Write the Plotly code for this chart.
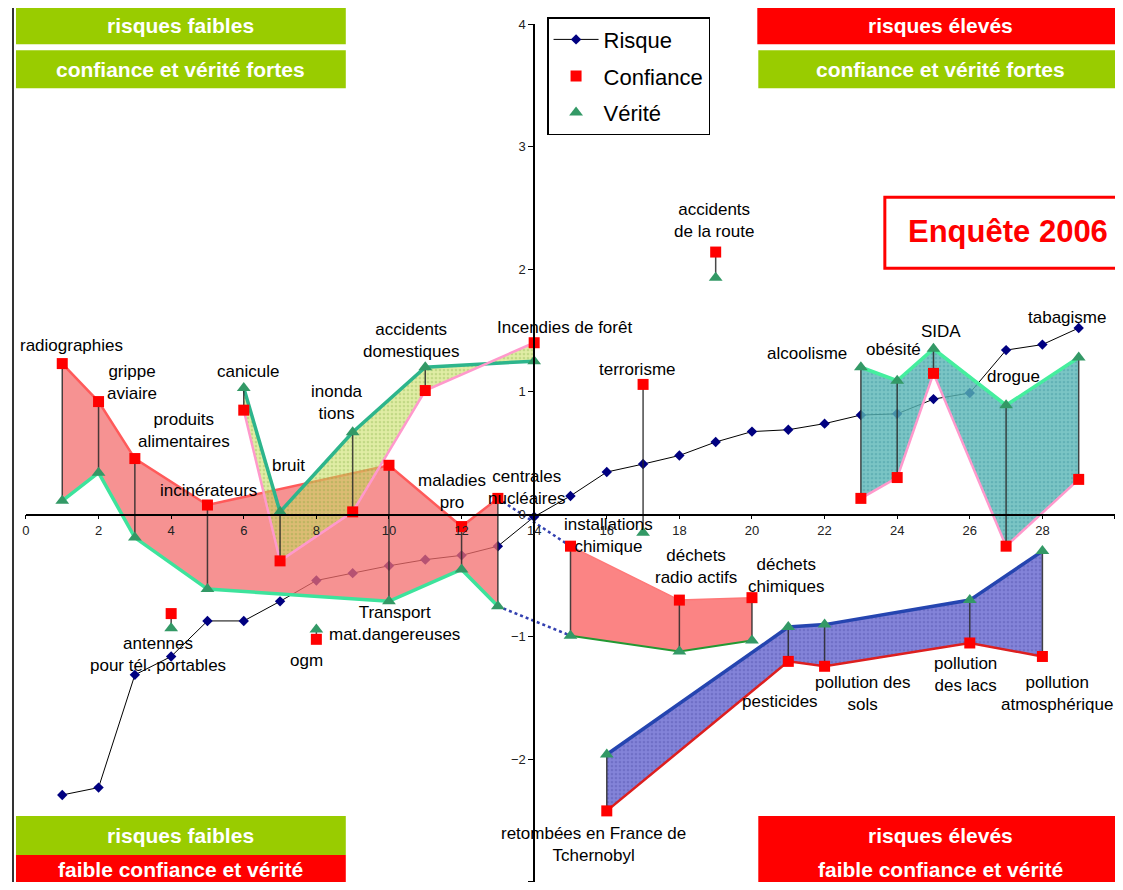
import plotly.graph_objects as go

# the page adds a body margin: draw at 1107x874 so the page is about 1123x890
W, H = 1107, 874
MX = 8            # horizontal offset of the figure in the page
OY, SY = 15.9, 0.991   # vertical offset / scale measured on the photographed page
FONT = "Liberation Sans, Arial, sans-serif"

# --- données ---
rang = [1, 2, 3, 4, 5, 6, 7, 8, 9, 10, 11, 12, 13, 14, 15,
        16, 17, 18, 19, 20, 21, 22, 23, 24, 25, 26, 27, 28, 29]
libelles = ["radiographies", "grippe<br>aviaire", "produits<br>alimentaires",
            "antennes<br>pour tél. portables", "incinérateurs", "canicule", "bruit",
            "ogm", "inonda<br>tions", "Transport<br>mat.dangereuses",
            "accidents<br>domestiques", "maladies<br>pro", "centrales<br>nucléaires",
            "Incendies de forêt", "installations<br>chimique",
            "retombées en France de<br>Tchernobyl", "terrorisme",
            "déchets<br>radio actifs", "accidents<br>de la route",
            "déchets<br>chimiques", "pesticides", "pollution des<br>sols",
            "alcoolisme", "obésité", "SIDA", "pollution<br>des lacs", "drogue",
            "pollution<br>atmosphérique", "tabagisme"]
risque = [-2.29, -2.23, -1.31, -1.16, -0.87, -0.87, -0.71, -0.54, -0.48, -0.42,
          -0.37, -0.335, -0.26, -0.02, 0.15, 0.345, 0.41, 0.48, 0.59, 0.675,
          0.69, 0.74, 0.81, 0.82, 0.94, 0.99, 1.34, 1.385, 1.52]
confiance = [1.23, 0.92, 0.455, -0.81, 0.076, 0.85, -0.38, -1.02, 0.02, 0.40,
             1.01, -0.10, 0.13, 1.40, -0.26, -2.42, 1.06, -0.70, 2.14, -0.68,
             -1.20, -1.24, 0.13, 0.30, 1.15, -1.05, -0.26, -1.16, 0.285]
verite = [0.11, 0.34, -0.19, -0.93, -0.61, 1.03, 0.02, -0.94, 0.67, -0.71,
          1.20, -0.45, -0.75, 1.25, -0.99, -1.96, -0.15, -1.12, 1.93, -1.03,
          -0.92, -0.90, 1.20, 1.09, 1.35, -0.70, 0.89, -0.30, 1.28]

# groupes de risques reliés par une zone colorée (rangs)
zone_rouge = [1, 2, 3, 5, 10, 12, 13]
zone_olive = [6, 7, 9, 11, 14]
zone_rouge2 = [15, 18, 20]
zone_bleue = [16, 21, 22, 26, 28]
zone_turquoise = [23, 24, 25, 27, 29]
liaison = [13, 15]

# décalage des étiquettes (pixels) par rapport au point Confiance
decalages = [(9, 18), (33, 19), (49, 28), (-13, -41), (1, 14), (4, 39), (8, 95),
             (-10, -21), (-16, 109), (6, -158), (-14, 50), (-10, 35), (29, 11),
             (30, 15), (38, 11), (-13, -34), (-6, 15), (17, 34), (-2, 32),
             (35, 22), (-8, -40), (38, -27), (-54, 145), (-4, 128), (8, 42),
             (-4, -32), (7, 170), (15, -37), (-12, 162)]

quadrants = [
    ("risques faibles", "#99CC00", 12, 343, 8, 45),
    ("confiance et vérité fortes", "#99CC00", 12, 343, 51, 89),
    ("risques élevés", "#FF0000", 756, 1123, 8, 45),
    ("confiance et vérité fortes", "#99CC00", 757, 1123, 51, 89),
    ("risques faibles", "#99CC00", 12, 343, 816, 855),
    ("faible confiance et vérité", "#FF0000", 12, 343, 855, 884),
    ("risques élevés", "#FF0000", 757, 1123, 816, 855),
    ("faible confiance et vérité", "#FF0000", 757, 1123, 855, 884),
]


def px(x):
    return (x - MX) / W


def py(y):
    return 1 - (y - OY) / SY / H


def sel(vals, grp):
    return [vals[rang.index(r)] for r in grp]


fig = go.Figure()

# courbe du risque (sous les zones)
fig.add_trace(go.Scatter(x=rang, y=risque, mode="lines+markers", name="Risque",
                         line=dict(color="black", width=1),
                         marker=dict(symbol="diamond", size=8, color="#000080"),
                         legendgroup="r", legendrank=1))


def zone(grp, fill, haut, bas, w_haut=3, w_bas=2.5, points=None):
    xs = grp + grp[::-1]
    ys = sel(confiance, grp) + sel(verite, grp)[::-1]
    extra = {}
    if points:
        extra["fillpattern"] = dict(shape=".", bgcolor=fill, fgcolor=points,
                                    size=4, solidity=0.35)
    fig.add_trace(go.Scatter(x=xs, y=ys, fill="toself", fillcolor=fill, mode="none",
                             showlegend=False, hoverinfo="skip", **extra))
    fig.add_trace(go.Scatter(x=grp, y=sel(verite, grp), mode="lines", showlegend=False,
                             line=dict(color=haut, width=w_haut), hoverinfo="skip"))
    fig.add_trace(go.Scatter(x=grp, y=sel(confiance, grp), mode="lines", showlegend=False,
                             line=dict(color=bas, width=w_bas), hoverinfo="skip"))


zone(zone_rouge, "rgba(243,110,110,0.75)", "#3DE39C", "#FF5A5A", 3.5, 2.5)
zone(zone_olive, "rgba(200,222,90,0.55)", "#2DB58C", "#FF99CC", 3.5, 2.5,
     points="rgba(110,160,50,0.55)")
zone(zone_rouge2, "rgba(250,110,110,0.85)", "#229933", "#FF7777", 2, 1.5)
zone(zone_bleue, "rgba(125,125,215,0.95)", "#2545B0", "#DD1F1F", 3.5, 2.5,
     points="rgba(80,80,170,0.8)")
zone(zone_turquoise, "rgba(90,182,182,0.8)", "#45EE9E", "#FF99CC", 3.5, 2.5,
     points="rgba(50,140,150,0.7)")

# traits verticaux entre confiance et vérité
vx, vy = [], []
for r, c, v in zip(rang, confiance, verite):
    vx += [r, r, None]
    vy += [c, v, None]
fig.add_trace(go.Scatter(x=vx, y=vy, mode="lines", showlegend=False, hoverinfo="skip",
                         line=dict(color="rgba(40,40,40,0.85)", width=1.5)))

# liaisons en pointillés
for serie in (confiance, verite):
    fig.add_trace(go.Scatter(x=liaison, y=sel(serie, liaison), mode="lines",
                             showlegend=False, hoverinfo="skip",
                             line=dict(color="#3340B0", width=2.5, dash="dot")))

fig.add_trace(go.Scatter(x=rang, y=confiance, mode="markers", name="Confiance",
                         marker=dict(symbol="square", size=11, color="#FF0000"),
                         legendgroup="c", legendrank=2))
fig.add_trace(go.Scatter(x=rang, y=verite, mode="markers", name="Vérité",
                         marker=dict(symbol="triangle-up", size=12, color="#339966"),
                         legendgroup="v", legendrank=3))

annotations = []
for r, c, lab, (dx, dy) in zip(rang, confiance, libelles, decalages):
    annotations.append(dict(x=r, y=c, xref="x", yref="y", text=lab, showarrow=False,
                            xshift=dx, yshift=dy, font=dict(size=17, color="black"),
                            xanchor="center", yanchor="middle"))

shapes = [
    dict(type="line", xref="paper", yref="paper", x0=px(9), x1=px(9), y0=py(8), y1=py(890),
         line=dict(color="#333", width=2)),
    dict(type="line", xref="paper", yref="paper", x0=px(9), x1=px(1123), y0=py(8), y1=py(8),
         line=dict(color="#333", width=2)),
]
for txt, col, x0, x1, y0, y1 in quadrants:
    shapes.append(dict(type="rect", xref="paper", yref="paper", x0=px(x0), x1=px(x1),
                       y0=py(y1), y1=py(y0), fillcolor=col, line=dict(width=0), layer="above"))
    annotations.append(dict(x=px((x0 + x1) / 2), y=py((y0 + y1) / 2), xref="paper", yref="paper",
                            xanchor="center", yanchor="middle",
                            text=f"<b>{txt}</b>", showarrow=False,
                            font=dict(size=21, color="white", family=FONT)))

shapes.append(dict(type="rect", xref="paper", yref="paper", x0=px(884), x1=px(1121),
                   y0=py(269), y1=py(198), fillcolor="white",
                   line=dict(color="#FF0000", width=3), layer="above"))
annotations.append(dict(x=px(1008), y=py(232), xref="paper", yref="paper",
                        xanchor="center", yanchor="middle",
                        text="<b>Enquête 2006</b>", showarrow=False,
                        font=dict(size=31, color="#FF0000", family=FONT)))

fig.update_layout(
    width=W, height=H, margin=dict(l=0, r=0, t=0, b=0),
    paper_bgcolor="white", plot_bgcolor="white",
    font=dict(family=FONT, color="black"),
    xaxis=dict(range=[0, 30], dtick=2, domain=[px(22), px(1115)], anchor="free",
               position=py(515), showgrid=False, zeroline=False, showline=True,
               linecolor="black", linewidth=1.5, ticks="outside", ticklen=4,
               tickcolor="black", tickfont=dict(size=13, color="#222")),
    yaxis=dict(range=[-3, 4], dtick=1, domain=[py(882), py(25)], anchor="free",
               position=px(532), showgrid=False, zeroline=False, showline=True,
               linecolor="black", linewidth=1.5, ticks="outside", ticklen=5,
               tickcolor="black", tickfont=dict(size=13, color="#222")),
    legend=dict(x=px(545), y=py(18), xanchor="left", yanchor="top",
                bordercolor="black", borderwidth=1.5, bgcolor="white",
                font=dict(size=22, color="black"), tracegroupgap=5, itemwidth=45),
    shapes=shapes, annotations=annotations, showlegend=True,
)

fig.write_html("out.html", config={"displayModeBar": False})
